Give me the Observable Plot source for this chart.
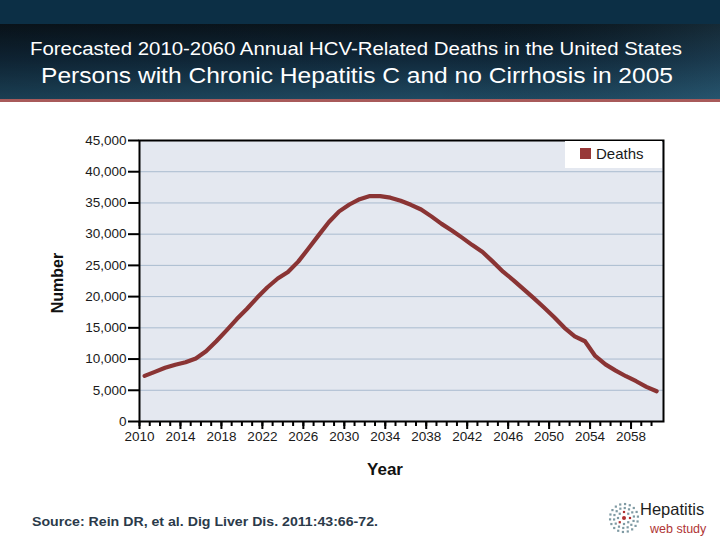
<!DOCTYPE html>
<html>
<head>
<meta charset="utf-8">
<script src="https://cdn.jsdelivr.net/npm/d3@7"></script>
<script src="https://cdn.jsdelivr.net/npm/@observablehq/plot@0.6"></script>
<style>
  html, body { margin: 0; padding: 0; background: #ffffff; }
  body { width: 720px; height: 540px; position: relative; overflow: hidden; font-family: "Liberation Sans", Arial, sans-serif; }
  #header { position: absolute; left: 0; top: 0; }
  #chart { position: absolute; left: 0; top: 110px; }
  #legend { position: absolute; left: 565px; top: 141px; width: 97px; height: 27px; background: #ffffff; }
  #legend .sw { position: absolute; left: 15px; top: 7px; width: 11px; height: 11px; background: #983838; }
  #legend .lb { position: absolute; left: 31px; top: 4px; font-size: 15px; color: #1a1a1a; line-height: 17px; }
  #ylabel { position: absolute; left: 58px; top: 283px; transform: translate(-50%, -50%) rotate(-90deg); font-weight: bold; font-size: 16px; color: #111; white-space: nowrap; }
  #xlabel { position: absolute; left: 385px; top: 470px; transform: translate(-50%, -50%); font-weight: bold; font-size: 17px; color: #111; }
  #footer { position: absolute; left: 0; top: 495px; }
</style>
</head>
<body>
<div id="header"></div>
<div id="chart"></div>
<div id="legend"><div class="sw"></div><div class="lb">Deaths</div></div>
<div id="ylabel">Number</div>
<div id="xlabel">Year</div>
<div id="footer"></div>
<script>
// ---- data ----
const years = [2010, 2011, 2012, 2013, 2014, 2015, 2016, 2017, 2018, 2019,
  2020, 2021, 2022, 2023, 2024, 2025, 2026, 2027, 2028, 2029,
  2030, 2031, 2032, 2033, 2034, 2035, 2036, 2037, 2038, 2039,
  2040, 2041, 2042, 2043, 2044, 2045, 2046, 2047, 2048, 2049,
  2050, 2051, 2052, 2053, 2054, 2055, 2056, 2057, 2058, 2059, 2060];
const deaths = [7300, 7950, 8600, 9100, 9500, 10100, 11250, 12850, 14600, 16400,
  18050, 19850, 21500, 22900, 23950, 25600, 27700, 29850, 31950, 33650,
  34750, 35600, 36100, 36100, 35850, 35350, 34700, 33950, 32850, 31650,
  30600, 29450, 28250, 27150, 25600, 24000, 22650, 21200, 19750, 18250,
  16700, 15000, 13650, 12850, 10500, 9150, 8150, 7250, 6450, 5550, 4850];
const yTicks = [0, 5000, 10000, 15000, 20000, 25000, 30000, 35000, 40000, 45000];
const xTickLabels = [2010, 2014, 2018, 2022, 2026, 2030, 2034, 2038, 2042, 2046, 2050, 2054, 2058];
const seriesName = "Deaths";
const titleLine1 = "Forecasted 2010-2060 Annual HCV-Related Deaths in the United States";
const titleLine2 = "Persons with Chronic Hepatitis C and no Cirrhosis in 2005";
const sourceText = "Source: Rein DR, et al.  Dig Liver Dis. 2011:43:66-72.";

const data = years.map((y, i) => ({year: y, deaths: deaths[i]}));

// ---- header ----
const hdr = d3.select("#header").append("svg").attr("width", 720).attr("height", 104);
const defs = hdr.append("defs");
const g1 = defs.append("linearGradient").attr("id", "hg").attr("x1", 0).attr("y1", 0).attr("x2", 0).attr("y2", 1);
g1.append("stop").attr("offset", "0%").attr("stop-color", "#0a151d");
g1.append("stop").attr("offset", "45%").attr("stop-color", "#10283a");
g1.append("stop").attr("offset", "100%").attr("stop-color", "#1f4a62");
const g2 = defs.append("linearGradient").attr("id", "hg2").attr("x1", 0).attr("y1", 0).attr("x2", 1).attr("y2", 0);
g2.append("stop").attr("offset", "0%").attr("stop-color", "#000000").attr("stop-opacity", 0.15);
g2.append("stop").attr("offset", "60%").attr("stop-color", "#000000").attr("stop-opacity", 0);
g2.append("stop").attr("offset", "100%").attr("stop-color", "#4a8aa8").attr("stop-opacity", 0.18);
hdr.append("rect").attr("x", 0).attr("y", 0).attr("width", 720).attr("height", 24).attr("fill", "#0c2f45");
hdr.append("rect").attr("x", 0).attr("y", 24).attr("width", 720).attr("height", 76).attr("fill", "url(#hg)");
hdr.append("rect").attr("x", 0).attr("y", 24).attr("width", 720).attr("height", 76).attr("fill", "url(#hg2)");
hdr.append("rect").attr("x", 0).attr("y", 99).attr("width", 720).attr("height", 3).attr("fill", "#a85a5a");
hdr.append("text").attr("x", 30).attr("y", 55).attr("textLength", 652).attr("lengthAdjust", "spacingAndGlyphs")
  .attr("fill", "#ffffff").attr("font-size", 18).attr("font-family", "'Liberation Sans Narrow', 'Liberation Sans', Arial, sans-serif")
  .text(titleLine1);
hdr.append("text").attr("x", 41).attr("y", 83).attr("textLength", 632).attr("lengthAdjust", "spacingAndGlyphs")
  .attr("fill", "#ffffff").attr("font-size", 22).attr("font-family", "'Liberation Sans', Arial, sans-serif")
  .text(titleLine2);

// ---- chart ----
const chart = Plot.plot({
  width: 720,
  height: 380,
  marginTop: 30,
  marginBottom: 69,
  marginLeft: 139,
  marginRight: 57,
  style: {fontFamily: "'Liberation Sans', Arial, sans-serif", fontSize: "13.5px", color: "#1a1a1a", background: "transparent"},
  x: {type: "linear", domain: [years[0] - 0.5, years[years.length - 1] + 0.67]},
  y: {domain: [0, 45000]},
  marks: [
    Plot.frame({fill: "#e4e8f0", stroke: "none"}),
    Plot.gridY(yTicks.filter(t => t > 0 && t < 45000), {stroke: "#a9bbcf", strokeOpacity: 1, strokeWidth: 1}),
    Plot.lineY(data, {x: "year", y: "deaths", stroke: "#8a3434", strokeWidth: 4.2, strokeLinejoin: "round", strokeLinecap: "round"}),
    Plot.frame({stroke: "#000000", strokeWidth: 2}),
    Plot.axisY(yTicks, {tickSize: 11, tickPadding: 2, strokeWidth: 2, stroke: "#000", fontSize: 13.5, tickFormat: d3.format(","), fill: "#1a1a1a", label: null}),
    Plot.axisX(years.map(y => y - 0.5), {tickSize: 5, strokeWidth: 2, stroke: "#000", tickFormat: () => "", label: null}),
    Plot.axisX(xTickLabels.map(y => y - 0.5), {tickSize: 8, tickPadding: 2, strokeWidth: 2, stroke: "#000", fontSize: 13.5, tickFormat: d => String(d + 0.5), fill: "#1a1a1a", label: null})
  ]
});
document.getElementById("chart").appendChild(chart);

// ---- footer ----
const ft = d3.select("#footer").append("svg").attr("width", 720).attr("height", 45);
ft.append("text").attr("x", 32).attr("y", 31).attr("textLength", 346).attr("lengthAdjust", "spacingAndGlyphs")
  .attr("fill", "#2b3a4a").attr("font-size", 12.5).attr("font-weight", "bold")
  .attr("font-family", "'Liberation Sans', Arial, sans-serif").text(sourceText);
// logo (decorative dot ring)
const logo = ft.append("g").attr("transform", "translate(624,23)");
[[6, 8], [10, 14], [14, 18]].forEach(([r, n], ri) => {
  for (let k = 0; k < n; k++) {
    const a = (k / n) * 2 * Math.PI + ri * 0.3;
    logo.append("rect").attr("x", r * Math.cos(a) - 1.1).attr("y", r * Math.sin(a) - 1.1)
      .attr("width", 2.2).attr("height", 2.2)
      .attr("fill", (ri === 0 && k % 3 === 0) ? "#b03030" : "#7f9aa3");
  }
});
logo.append("circle").attr("r", 2).attr("fill", "#b03030");
ft.append("text").attr("x", 640).attr("y", 20).attr("font-size", 16.5).attr("fill", "#1e1e1e")
  .attr("font-family", "'Liberation Sans', Arial, sans-serif").text("Hepatitis");
ft.append("text").attr("x", 650).attr("y", 37.5).attr("font-size", 12.5).attr("fill", "#b03535")
  .attr("font-family", "'Liberation Sans', Arial, sans-serif").text("web study");
</script>
</body>
</html>
